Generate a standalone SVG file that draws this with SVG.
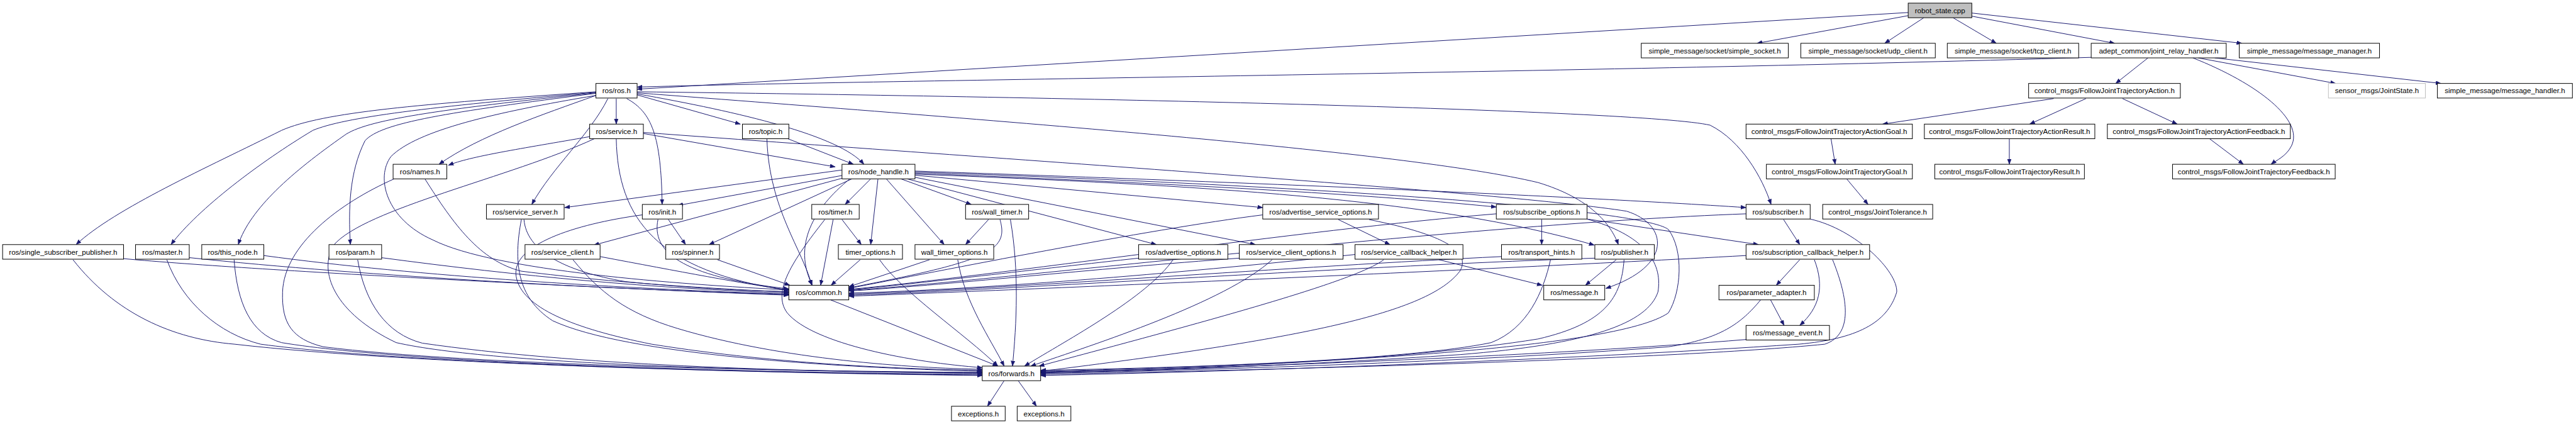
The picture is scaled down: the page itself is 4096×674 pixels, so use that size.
<svg xmlns="http://www.w3.org/2000/svg" width="4096" height="674" viewBox="0 0 4096 674">
<style>
.e{fill:none;stroke:#191970;stroke-width:1.2;marker-end:url(#a)}
.n rect{fill:#fff;stroke:#000;stroke-width:1.2}
.g rect{fill:#bfbfbf}
.u rect{stroke:#bfbfbf}
text{font-family:"Liberation Sans",Arial,sans-serif;font-size:14px;text-anchor:middle;fill:#000}
</style>
<defs>
<marker id="a" markerUnits="userSpaceOnUse" markerWidth="11" markerHeight="8" refX="10" refY="3.8" orient="auto"><path d="M0,0 L10,3.8 L0,7.6 z" fill="#191970" stroke="#191970" stroke-width="0.6"/></marker>
</defs>
<rect width="4096" height="674" fill="#fff"/>
<g transform="scale(0.829)">
<g id="connectors">
<path class="e" d="M3660,24 L1222,171"/>
<path class="e" d="M3660,30 L3370,83"/>
<path class="e" d="M3690,34 L3615,83"/>
<path class="e" d="M3746,34 L3829,83"/>
<path class="e" d="M3782,31 L4056,83"/>
<path class="e" d="M3782,25 L4300,83"/>
<path class="e" d="M4011,110 C3000,140 1600,155 1222,167"/>
<path class="e" d="M4120,111 L4058,160"/>
<path class="e" d="M4206,111 C4330,160 4420,230 4395,280 C4385,300 4365,308 4356,315"/>
<path class="e" d="M4216,111 L4480,160"/>
<path class="e" d="M4248,111 L4682,160"/>
<path class="e" d="M3939,189 L3611,238"/>
<path class="e" d="M4001,189 L3893,238"/>
<path class="e" d="M4071,189 L4176,238"/>
<path class="e" d="M3512,266 L3520,315"/>
<path class="e" d="M3854,266 L3854,315"/>
<path class="e" d="M4238,266 L4303,315"/>
<path class="e" d="M3542,343 L3583,392"/>
<path class="e" d="M1222,176 C2000,185 3150,210 3280,240 C3340,270 3380,340 3397,392"/>
<path class="e" d="M1222,178 C1900,230 2700,290 2950,350 C3050,380 3090,430 3104,469"/>
<path class="e" d="M1222,182 L1420,238"/>
<path class="e" d="M1222,180 C1420,215 1610,260 1657,315"/>
<path class="e" d="M1202,189 C1250,215 1268,260 1270,392"/>
<path class="e" d="M1182,189 L1182,238"/>
<path class="e" d="M1166,189 C1130,260 1060,320 1020,392"/>
<path class="e" d="M1143,183 C1040,220 920,260 842,315"/>
<path class="e" d="M1143,176 C800,200 620,215 540,250 C400,320 220,400 146,469"/>
<path class="e" d="M1143,177 C820,205 660,225 600,250 C500,310 380,400 328,469"/>
<path class="e" d="M1143,178 C840,210 700,230 660,260 C560,330 480,400 457,469"/>
<path class="e" d="M1143,179 C860,215 730,235 700,270 C670,330 668,400 672,469"/>
<path class="e" d="M1143,183 C950,215 800,250 750,300 C720,340 740,420 830,460 C950,520 1300,545 1513,556"/>
<path class="e" d="M1131,262 C1000,285 900,300 860,317"/>
<path class="e" d="M1140,266 C980,340 700,400 640,470 C610,520 640,600 760,657 C950,700 1500,712 1884,716"/>
<path class="e" d="M1234,256 L1602,320"/>
<path class="e" d="M1182,266 C1185,420 1260,520 1513,557"/>
<path class="e" d="M1234,254 C2000,310 2900,370 3120,405 C3200,430 3210,510 3080,553"/>
<path class="e" d="M1471,266 C1475,400 1540,480 1557,547"/>
<path class="e" d="M1511,266 L1637,315"/>
<path class="e" d="M756,343 C650,390 545,470 542,560 C540,620 560,650 620,665 C900,700 1500,712 1884,714"/>
<path class="e" d="M815,343 C870,430 920,500 1000,520 C1200,545 1400,555 1513,560"/>
<path class="e" d="M140,498 C220,600 330,650 450,660 C800,700 1500,716 1884,720"/>
<path class="e" d="M237,496 C500,520 1200,555 1513,566"/>
<path class="e" d="M320,498 C350,580 420,640 500,660 C800,700 1500,716 1884,719"/>
<path class="e" d="M363,494 C700,530 1200,556 1513,565"/>
<path class="e" d="M449,498 C455,580 480,640 540,657 C800,700 1500,715 1884,718"/>
<path class="e" d="M506,490 C800,530 1200,554 1513,564"/>
<path class="e" d="M686,498 C700,580 740,640 810,658 C1100,700 1500,713 1884,715"/>
<path class="e" d="M731,494 C1000,530 1250,553 1513,562"/>
<path class="e" d="M1000,421 C985,500 990,570 1060,615 C1200,680 1600,705 1884,712"/>
<path class="e" d="M1005,421 C1010,480 1080,520 1200,540 C1350,555 1450,558 1513,559"/>
<path class="e" d="M1282,421 L1315,469"/>
<path class="e" d="M1232,412 C1100,430 980,470 990,530 C1000,590 1100,630 1250,660 C1500,700 1750,708 1884,710"/>
<path class="e" d="M1262,421 C1250,480 1300,530 1513,554"/>
<path class="e" d="M1099,498 C1150,560 1200,600 1300,630 C1500,690 1750,706 1884,708"/>
<path class="e" d="M1151,492 C1300,520 1430,545 1513,556"/>
<path class="e" d="M1376,498 L1515,547"/>
<path class="e" d="M1615,421 L1652,469"/>
<path class="e" d="M1598,421 L1574,547"/>
<path class="e" d="M1582,421 C1520,500 1480,560 1510,600 C1560,660 1750,695 1884,705"/>
<path class="e" d="M1650,498 L1594,547"/>
<path class="e" d="M1687,498 C1730,560 1850,640 1914,702"/>
<path class="e" d="M1783,498 L1628,550"/>
<path class="e" d="M1837,498 C1850,580 1900,650 1926,702"/>
<path class="e" d="M1896,421 L1852,469"/>
<path class="e" d="M1918,421 C1935,480 1900,500 1628,552"/>
<path class="e" d="M1938,421 C1955,520 1950,620 1942,702"/>
<path class="e" d="M2184,495 C2000,515 1750,545 1628,556"/>
<path class="e" d="M2250,498 C2200,570 2050,650 1965,702"/>
<path class="e" d="M2377,495 C2100,515 1800,548 1628,558"/>
<path class="e" d="M2440,498 C2350,580 2100,660 1977,702"/>
<path class="e" d="M2567,421 L2666,469"/>
<path class="e" d="M2422,412 C2200,440 1800,520 1628,553"/>
<path class="e" d="M2626,421 C2720,440 2830,470 2800,520 C2740,600 2500,650 1996,712"/>
<path class="e" d="M2760,498 L2958,547"/>
<path class="e" d="M2654,498 C2600,540 2300,620 1993,702"/>
<path class="e" d="M2599,488 C2300,520 1900,555 1628,562"/>
<path class="e" d="M2957,421 L2957,469"/>
<path class="e" d="M3044,420 L3373,469"/>
<path class="e" d="M2870,410 C2500,440 1900,530 1628,555"/>
<path class="e" d="M3044,420 C3150,450 3190,500 3180,560 C3160,620 3050,660 2800,680 C2500,700 2200,712 1996,715"/>
<path class="e" d="M2880,492 C2500,510 1900,556 1628,564"/>
<path class="e" d="M2974,498 C2960,560 2930,630 2860,657 C2700,690 2300,705 1996,710"/>
<path class="e" d="M3100,498 L3041,547"/>
<path class="e" d="M3059,495 C2600,510 1900,558 1628,566"/>
<path class="e" d="M3115,498 C3110,570 3080,620 2950,650 C2700,690 2300,708 1996,713"/>
<path class="e" d="M3421,421 L3452,469"/>
<path class="e" d="M3349,410 C2800,430 1900,540 1628,557"/>
<path class="e" d="M3472,420 C3560,440 3640,520 3638,560 C3620,620 3560,650 3450,660 C3000,690 2400,712 1996,720"/>
<path class="e" d="M3452,498 L3407,547"/>
<path class="e" d="M3480,498 C3500,550 3490,590 3452,624"/>
<path class="e" d="M3349,490 C2800,520 1900,558 1628,568"/>
<path class="e" d="M3515,498 C3540,560 3560,640 3500,660 C3200,690 2400,710 1996,718"/>
<path class="e" d="M3396,575 L3422,624"/>
<path class="e" d="M3377,575 C3340,620 3300,650 3200,665 C2800,695 2300,710 1996,716"/>
<path class="e" d="M3349,651 C3000,680 2400,705 1996,714"/>
<path class="e" d="M1615,326 L1083,398"/>
<path class="e" d="M1618,336 L1300,394"/>
<path class="e" d="M1622,340 L1139,470"/>
<path class="e" d="M1634,343 L1360,469"/>
<path class="e" d="M1630,343 C1560,400 1520,470 1558,547"/>
<path class="e" d="M1670,343 L1621,392"/>
<path class="e" d="M1684,343 L1670,469"/>
<path class="e" d="M1700,343 L1811,469"/>
<path class="e" d="M1728,343 L1863,392"/>
<path class="e" d="M1740,343 L2218,469"/>
<path class="e" d="M1755,340 L2408,469"/>
<path class="e" d="M1755,336 L2422,398"/>
<path class="e" d="M1755,332 C2200,350 2600,370 2870,397"/>
<path class="e" d="M1755,328 C2400,350 3000,375 3349,398"/>
<path class="e" d="M1755,334 C2300,355 2750,380 3058,470"/>
<path class="e" d="M1755,330 C2500,355 3150,400 3200,440 C3230,480 3225,560 3200,600 C3100,670 2500,700 1996,712"/>
<path class="e" d="M1593,575 L1914,702"/>
<path class="e" d="M1926,730 L1894,779"/>
<path class="e" d="M1953,730 L1988,779"/>
</g>
<g id="n_robot" class="n g"><rect x="3660" y="6" width="122" height="28"/><text x="3721" y="25">robot_state.cpp</text></g>
<g id="n_simple_socket" class="n"><rect x="3148" y="83" width="282" height="28"/><text x="3289" y="102">simple_message/socket/simple_socket.h</text></g>
<g id="n_udp" class="n"><rect x="3454" y="83" width="258" height="28"/><text x="3583" y="102">simple_message/socket/udp_client.h</text></g>
<g id="n_tcp" class="n"><rect x="3735" y="83" width="252" height="28"/><text x="3861" y="102">simple_message/socket/tcp_client.h</text></g>
<g id="n_jrh" class="n"><rect x="4011" y="83" width="259" height="28"/><text x="4140.5" y="102">adept_common/joint_relay_handler.h</text></g>
<g id="n_mm" class="n"><rect x="4295" y="83" width="269" height="28"/><text x="4429.5" y="102">simple_message/message_manager.h</text></g>
<g id="n_ros" class="n"><rect x="1143" y="160" width="79" height="28"/><text x="1182.5" y="179">ros/ros.h</text></g>
<g id="n_fjta" class="n"><rect x="3891" y="160" width="291" height="28"/><text x="4036.5" y="179">control_msgs/FollowJointTrajectoryAction.h</text></g>
<g id="n_js" class="n u"><rect x="4466" y="160" width="186" height="28"/><text x="4559" y="179">sensor_msgs/JointState.h</text></g>
<g id="n_mh" class="n"><rect x="4675" y="160" width="259" height="28"/><text x="4804.5" y="179">simple_message/message_handler.h</text></g>
<g id="n_service" class="n"><rect x="1131" y="238" width="103" height="28"/><text x="1182.5" y="257">ros/service.h</text></g>
<g id="n_topic" class="n"><rect x="1424" y="238" width="89" height="28"/><text x="1468.5" y="257">ros/topic.h</text></g>
<g id="n_goal" class="n"><rect x="3349" y="238" width="319" height="28"/><text x="3508.5" y="257">control_msgs/FollowJointTrajectoryActionGoal.h</text></g>
<g id="n_result" class="n"><rect x="3691" y="238" width="327" height="28"/><text x="3854.5" y="257">control_msgs/FollowJointTrajectoryActionResult.h</text></g>
<g id="n_feedback" class="n"><rect x="4042" y="238" width="351" height="28"/><text x="4217.5" y="257">control_msgs/FollowJointTrajectoryActionFeedback.h</text></g>
<g id="n_names" class="n"><rect x="754" y="315" width="103" height="28"/><text x="805.5" y="334">ros/names.h</text></g>
<g id="n_nh" class="n"><rect x="1615" y="315" width="140" height="28"/><text x="1685" y="334">ros/node_handle.h</text></g>
<g id="n_fjtg" class="n"><rect x="3388" y="315" width="280" height="28"/><text x="3528" y="334">control_msgs/FollowJointTrajectoryGoal.h</text></g>
<g id="n_fjtr" class="n"><rect x="3711" y="315" width="287" height="28"/><text x="3854.5" y="334">control_msgs/FollowJointTrajectoryResult.h</text></g>
<g id="n_fjtf" class="n"><rect x="4167" y="315" width="312" height="28"/><text x="4323" y="334">control_msgs/FollowJointTrajectoryFeedback.h</text></g>
<g id="n_service_server" class="n"><rect x="933" y="392" width="149" height="28"/><text x="1007.5" y="411">ros/service_server.h</text></g>
<g id="n_init" class="n"><rect x="1232" y="392" width="77" height="28"/><text x="1270.5" y="411">ros/init.h</text></g>
<g id="n_timer" class="n"><rect x="1557" y="392" width="91" height="28"/><text x="1602.5" y="411">ros/timer.h</text></g>
<g id="n_wall_timer" class="n"><rect x="1852" y="392" width="121" height="28"/><text x="1912.5" y="411">ros/wall_timer.h</text></g>
<g id="n_aso" class="n"><rect x="2422" y="392" width="222" height="28"/><text x="2533" y="411">ros/advertise_service_options.h</text></g>
<g id="n_so" class="n"><rect x="2870" y="392" width="174" height="28"/><text x="2957" y="411">ros/subscribe_options.h</text></g>
<g id="n_subscriber" class="n"><rect x="3349" y="392" width="123" height="28"/><text x="3410.5" y="411">ros/subscriber.h</text></g>
<g id="n_jt" class="n"><rect x="3496" y="392" width="211" height="28"/><text x="3601.5" y="411">control_msgs/JointTolerance.h</text></g>
<g id="n_ssp" class="n"><rect x="5" y="469" width="232" height="28"/><text x="121" y="488">ros/single_subscriber_publisher.h</text></g>
<g id="n_master" class="n"><rect x="260" y="469" width="103" height="28"/><text x="311.5" y="488">ros/master.h</text></g>
<g id="n_this_node" class="n"><rect x="387" y="469" width="119" height="28"/><text x="446.5" y="488">ros/this_node.h</text></g>
<g id="n_param" class="n"><rect x="631" y="469" width="101" height="28"/><text x="681.5" y="488">ros/param.h</text></g>
<g id="n_service_client" class="n"><rect x="1007" y="469" width="144" height="28"/><text x="1079" y="488">ros/service_client.h</text></g>
<g id="n_spinner" class="n"><rect x="1277" y="469" width="103" height="28"/><text x="1328.5" y="488">ros/spinner.h</text></g>
<g id="n_timer_options" class="n"><rect x="1608" y="469" width="123" height="28"/><text x="1669.5" y="488">timer_options.h</text></g>
<g id="n_wto" class="n"><rect x="1755" y="469" width="151" height="28"/><text x="1830.5" y="488">wall_timer_options.h</text></g>
<g id="n_ao" class="n"><rect x="2184" y="469" width="171" height="28"/><text x="2269.5" y="488">ros/advertise_options.h</text></g>
<g id="n_sco" class="n"><rect x="2377" y="469" width="199" height="28"/><text x="2476.5" y="488">ros/service_client_options.h</text></g>
<g id="n_sch" class="n"><rect x="2599" y="469" width="207" height="28"/><text x="2702.5" y="488">ros/service_callback_helper.h</text></g>
<g id="n_th" class="n"><rect x="2880" y="469" width="154" height="28"/><text x="2957" y="488">ros/transport_hints.h</text></g>
<g id="n_pub" class="n"><rect x="3059" y="469" width="114" height="28"/><text x="3116" y="488">ros/publisher.h</text></g>
<g id="n_subch" class="n"><rect x="3349" y="469" width="237" height="28"/><text x="3467.5" y="488">ros/subscription_callback_helper.h</text></g>
<g id="n_common" class="n"><rect x="1513" y="547" width="115" height="28"/><text x="1570.5" y="566">ros/common.h</text></g>
<g id="n_message" class="n"><rect x="2961" y="547" width="117" height="28"/><text x="3019.5" y="566">ros/message.h</text></g>
<g id="n_pa" class="n"><rect x="3297" y="547" width="183" height="28"/><text x="3388.5" y="566">ros/parameter_adapter.h</text></g>
<g id="n_me" class="n"><rect x="3349" y="624" width="160" height="28"/><text x="3429" y="643">ros/message_event.h</text></g>
<g id="n_forwards" class="n"><rect x="1884" y="702" width="112" height="28"/><text x="1940" y="721">ros/forwards.h</text></g>
<g id="n_ex1" class="n"><rect x="1825" y="779" width="103" height="28"/><text x="1876.5" y="798">exceptions.h</text></g>
<g id="n_ex2" class="n"><rect x="1951" y="779" width="103" height="28"/><text x="2002.5" y="798">exceptions.h</text></g>
</g>
</svg>
